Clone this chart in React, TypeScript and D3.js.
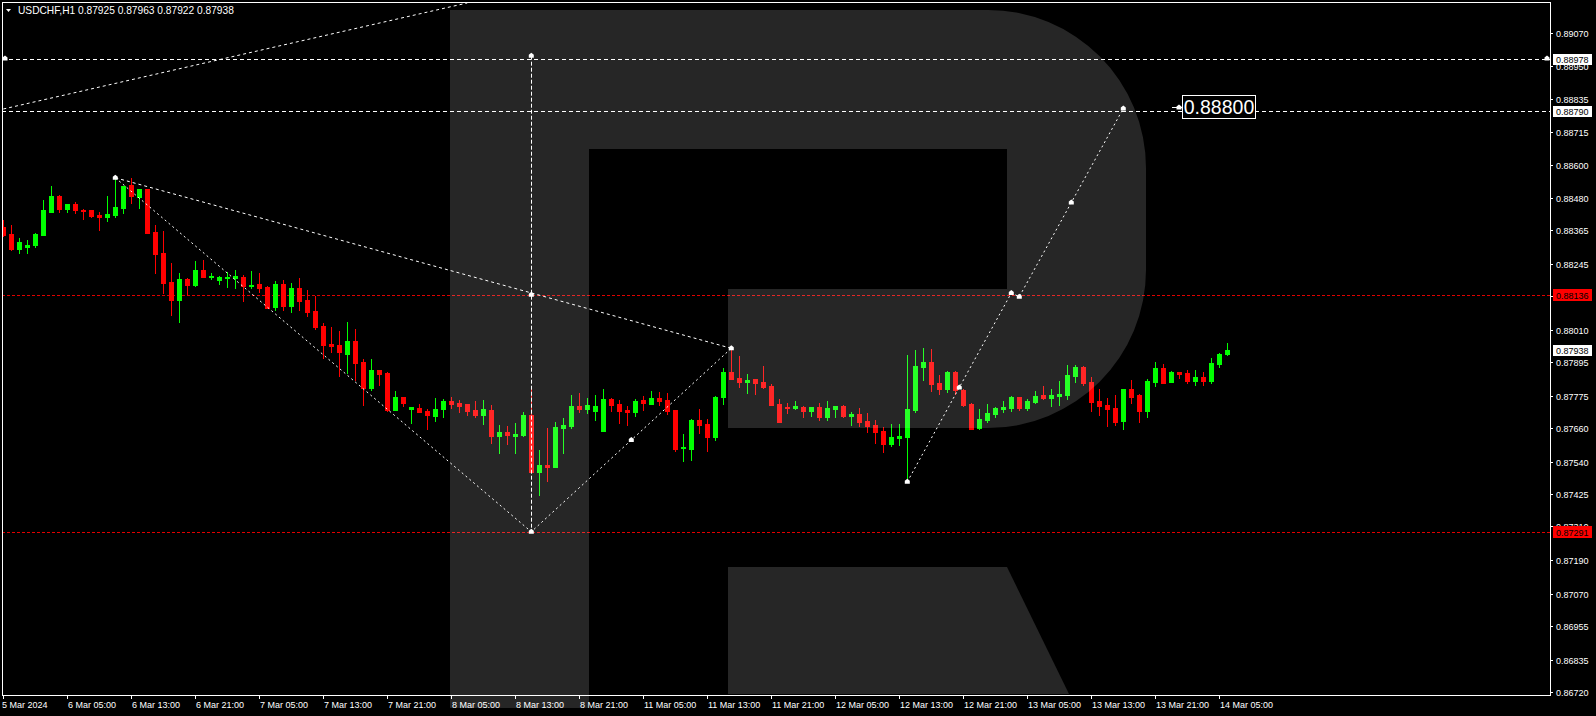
import React from "react";
import * as d3 from "d3";

const W = 1596;
const H = 716;
const PLOT_LEFT = 2;
const PLOT_RIGHT = 1550;
const PLOT_TOP = 2;
const PLOT_BOTTOM = 695;

const headerText = "USDCHF,H1  0.87925 0.87963 0.87922 0.87938";

// Hourly bars (USDCHF H1), oldest first
const opens = [
  0.88378, 0.88353, 0.88299, 0.88307, 0.88314, 0.88349, 0.88431, 0.88488, 0.88442, 0.8846,
  0.88438, 0.88438, 0.88421, 0.88413, 0.88421, 0.88446, 0.88527, 0.88485, 0.88513, 0.8836,
  0.88285, 0.88182, 0.88118, 0.88192, 0.88171, 0.88225, 0.882, 0.88189, 0.88196, 0.88196,
  0.882, 0.88168, 0.88175, 0.88164, 0.88093, 0.88175, 0.88096, 0.8816, 0.88118, 0.88078,
  0.88025, 0.87961, 0.87957, 0.87925, 0.87971, 0.87897, 0.87804, 0.87868, 0.87857, 0.87726,
  0.87772, 0.87729, 0.87733, 0.87722, 0.87704, 0.87729, 0.87758, 0.87751, 0.87747, 0.87726,
  0.87708, 0.87726, 0.87633, 0.87647, 0.87633, 0.87636, 0.87708, 0.87505, 0.8753, 0.87522,
  0.87661, 0.87669, 0.8774, 0.87729, 0.87722, 0.87651, 0.87765, 0.87747, 0.87726, 0.87718,
  0.87761, 0.87747, 0.87768, 0.87761, 0.87726, 0.8759, 0.87587, 0.8769, 0.87676, 0.87629,
  0.87772, 0.87861, 0.8784, 0.87825, 0.87836, 0.87825, 0.87811, 0.87747, 0.87736, 0.87733,
  0.87736, 0.87722, 0.87736, 0.87701, 0.87729, 0.8774, 0.87704, 0.87711, 0.87686, 0.87672,
  0.87651, 0.87604, 0.87626, 0.87629, 0.87726, 0.87879, 0.87897, 0.87822, 0.878, 0.87861,
  0.87797, 0.87747, 0.87661, 0.8769, 0.87711, 0.87729, 0.87733, 0.87772, 0.87733, 0.87754,
  0.87779, 0.87768, 0.87775, 0.87779, 0.87847, 0.87879, 0.87825, 0.87758, 0.87743, 0.87733,
  0.87686, 0.878, 0.87779, 0.87722, 0.87825, 0.87875, 0.87825, 0.87861, 0.87857, 0.87829,
  0.87843, 0.87829, 0.8789, 0.87925,
];
const highs = [
  0.88403, 0.88385, 0.88339, 0.88331, 0.88356, 0.88474, 0.88524, 0.88492, 0.8846, 0.88467,
  0.88442, 0.88438, 0.88431, 0.88488, 0.88552, 0.88524, 0.88552, 0.88513, 0.88513, 0.88385,
  0.88364, 0.8825, 0.88214, 0.88196, 0.88257, 0.8826, 0.88214, 0.88203, 0.88217, 0.88225,
  0.88207, 0.88221, 0.88214, 0.88168, 0.88185, 0.88189, 0.88178, 0.88196, 0.88153, 0.88132,
  0.88036, 0.88021, 0.88007, 0.88039, 0.88014, 0.87907, 0.87907, 0.87868, 0.87861, 0.87793,
  0.87772, 0.87736, 0.87747, 0.87729, 0.87768, 0.87765, 0.87772, 0.87761, 0.87747, 0.87758,
  0.87761, 0.87743, 0.87672, 0.87669, 0.87679, 0.87718, 0.87811, 0.87583, 0.87661, 0.87683,
  0.87697, 0.87779, 0.87786, 0.87768, 0.87779, 0.878, 0.87768, 0.87761, 0.8774, 0.87765,
  0.87775, 0.87793, 0.8779, 0.87786, 0.87726, 0.8764, 0.87693, 0.87729, 0.87693, 0.87775,
  0.87875, 0.87939, 0.87918, 0.87854, 0.87836, 0.87882, 0.87818, 0.87765, 0.87751, 0.87758,
  0.8774, 0.87736, 0.87751, 0.87758, 0.8774, 0.87743, 0.87718, 0.87733, 0.87715, 0.8769,
  0.87665, 0.87676, 0.87676, 0.87922, 0.87939, 0.87947, 0.87943, 0.8785, 0.87865, 0.87865,
  0.878, 0.87751, 0.87729, 0.87747, 0.87736, 0.87758, 0.87775, 0.87772, 0.87765, 0.87793,
  0.87811, 0.878, 0.87829, 0.87886, 0.87886, 0.87882, 0.87843, 0.878, 0.87768, 0.87779,
  0.878, 0.87832, 0.87783, 0.87836, 0.87897, 0.8789, 0.87865, 0.87861, 0.87868, 0.87868,
  0.87861, 0.87911, 0.87929, 0.87963,
];
const lows = [
  0.88346, 0.88296, 0.88285, 0.88285, 0.88307, 0.88349, 0.88431, 0.88431, 0.88431, 0.88428,
  0.88406, 0.88413, 0.88367, 0.88399, 0.88413, 0.88428, 0.88463, 0.88446, 0.88356, 0.88214,
  0.88143, 0.88064, 0.88039, 0.88135, 0.88168, 0.882, 0.88192, 0.88175, 0.88164, 0.8816,
  0.88114, 0.8816, 0.88146, 0.88089, 0.88082, 0.88082, 0.88075, 0.88082, 0.88061, 0.88014,
  0.87911, 0.87932, 0.87847, 0.87857, 0.87832, 0.87743, 0.87797, 0.87815, 0.87722, 0.87726,
  0.8774, 0.87679, 0.87718, 0.87658, 0.87686, 0.87701, 0.87733, 0.87718, 0.87708, 0.87701,
  0.87676, 0.87608, 0.87572, 0.87604, 0.87572, 0.87633, 0.87505, 0.87423, 0.87473, 0.87522,
  0.87572, 0.87661, 0.87718, 0.87715, 0.8769, 0.87651, 0.87722, 0.87679, 0.87672, 0.87704,
  0.87726, 0.87747, 0.87743, 0.87711, 0.87579, 0.87544, 0.87547, 0.87644, 0.87579, 0.87619,
  0.87747, 0.87836, 0.87808, 0.87786, 0.87783, 0.87804, 0.87743, 0.87683, 0.87715, 0.87729,
  0.87701, 0.87704, 0.8769, 0.8769, 0.87701, 0.87701, 0.87672, 0.87669, 0.87647, 0.87608,
  0.87576, 0.87597, 0.87601, 0.87469, 0.87718, 0.87832, 0.87793, 0.87783, 0.8779, 0.87783,
  0.8774, 0.87658, 0.87658, 0.87683, 0.87701, 0.87718, 0.87722, 0.87726, 0.87726, 0.87751,
  0.87765, 0.8774, 0.87743, 0.87765, 0.87825, 0.87815, 0.87722, 0.87708, 0.87669, 0.87672,
  0.87658, 0.87751, 0.87683, 0.87701, 0.87811, 0.87822, 0.87825, 0.8784, 0.87822, 0.87815,
  0.87815, 0.87822, 0.87879, 0.87922,
];
const closes = [
  0.88349, 0.88299, 0.88324, 0.88314, 0.88353, 0.88438, 0.88488, 0.88442, 0.8846, 0.88438,
  0.88435, 0.88417, 0.88413, 0.88424, 0.88449, 0.88524, 0.88488, 0.88513, 0.88356, 0.88282,
  0.88178, 0.88118, 0.88192, 0.88171, 0.88225, 0.882, 0.88203, 0.882, 0.882, 0.88203,
  0.88168, 0.88171, 0.8816, 0.88089, 0.88175, 0.88096, 0.8816, 0.88114, 0.88075, 0.88021,
  0.87957, 0.87954, 0.87932, 0.87971, 0.87893, 0.87804, 0.87868, 0.87854, 0.87726, 0.87772,
  0.87751, 0.87736, 0.87718, 0.87708, 0.87729, 0.87758, 0.87747, 0.8774, 0.87722, 0.87708,
  0.87729, 0.87633, 0.87647, 0.87636, 0.8764, 0.87708, 0.87505, 0.8753, 0.87522, 0.87665,
  0.87672, 0.8774, 0.87729, 0.87743, 0.8774, 0.87765, 0.87743, 0.87722, 0.87718, 0.87758,
  0.87751, 0.87768, 0.87758, 0.87722, 0.87587, 0.87594, 0.8769, 0.87672, 0.87629, 0.87772,
  0.87861, 0.87836, 0.87825, 0.87832, 0.87822, 0.87808, 0.87743, 0.87683, 0.87733, 0.8774,
  0.87722, 0.87736, 0.87701, 0.87733, 0.8774, 0.87704, 0.87711, 0.87683, 0.87669, 0.87647,
  0.87604, 0.87629, 0.87633, 0.87729, 0.87882, 0.87897, 0.87818, 0.878, 0.87861, 0.87797,
  0.87743, 0.87658, 0.87693, 0.87715, 0.87733, 0.87736, 0.87772, 0.87733, 0.87758, 0.87775,
  0.87768, 0.87779, 0.87783, 0.8785, 0.87879, 0.87822, 0.87754, 0.8774, 0.87729, 0.87683,
  0.878, 0.87772, 0.87722, 0.87829, 0.87875, 0.87822, 0.87861, 0.87854, 0.87829, 0.87843,
  0.87829, 0.87893, 0.87925, 0.87938,
];

const yTickValues = [
  0.8907, 0.8895, 0.88835, 0.88715, 0.886, 0.8848, 0.88365, 0.88245, 0.8813, 0.8801, 0.87895,
  0.87775, 0.8766, 0.8754, 0.87425, 0.8731, 0.8719, 0.8707, 0.86955, 0.86835, 0.8672,
];
const xTickLabels = [
  "5 Mar 2024", "6 Mar 05:00", "6 Mar 13:00", "6 Mar 21:00", "7 Mar 05:00", "7 Mar 13:00",
  "7 Mar 21:00", "8 Mar 05:00", "8 Mar 13:00", "8 Mar 21:00", "11 Mar 05:00", "11 Mar 13:00",
  "11 Mar 21:00", "12 Mar 05:00", "12 Mar 13:00", "12 Mar 21:00", "13 Mar 05:00", "13 Mar 13:00",
  "13 Mar 21:00", "14 Mar 05:00",
];
const barsPerLabel = 8;

const whiteLevels = [0.88978, 0.8879];
const redLevels = [0.88136, 0.87291];
const lastPrice = 0.87938;
const targetPrice = 0.888;
const targetLabel = "0.88800";

// annotation anchors: [bar index, price]
const fanTop: [number, number] = [14, 0.88553];
const swingLow: [number, number] = [66, 0.87291];
const swingHigh: [number, number] = [91, 0.87945];
const verticalTop: [number, number] = [66, 0.88988];
const projection: [number, number][] = [
  [113, 0.87469],
  [126, 0.88142],
  [127, 0.88129],
  [140, 0.888],
];
const topTrend: [number, number][] = [
  [0, 0.88798],
  [58, 0.89176],
];

const FONT = "'Liberation Sans', Arial, sans-serif";

export default function App() {
  const x = d3.scaleLinear().domain([0, 193]).range([3.3, 3.3 + 8 * 193]);
  const y = d3.scaleLinear().domain([0.8672, 0.8907]).range([692, 32.7]);

  const bars = opens.map((o, i) => ({ o, h: highs[i], l: lows[i], c: closes[i], i }));
  const line = d3
    .line<[number, number]>()
    .x((d) => x(d[0]))
    .y((d) => y(d[1]));

  const marker = (px: number, py: number, key: string) => (
    <path
      key={key}
      d={`M${px - 2.5},${py + 2} L${px - 2.5},${py - 1} L${px},${py - 3} L${px + 2.5},${py - 1} L${px + 2.5},${py + 2} Z`}
      fill="#fff"
    />
  );

  const rY = (v: number) => Math.round(y(v)) + 0.5;

  // Logo geometry
  const r = 158;
  const logoMain = `M450,10 L${1146 - r},10 A${r},${r} 0 0 1 1146,${10 + r} L1146,${428 - r} A${r},${r} 0 0 1 ${1146 - r},428 L728,428 L728,289 L1007,289 L1007,149 L589,149 L589,708 L450,708 Z`;
  const logoLeg = "M728,567 L1007,567 L1069,694 L728,694 Z";

  const mid = (a: [number, number], b: [number, number]): [number, number] => [
    (x(a[0]) + x(b[0])) / 2,
    (y(a[1]) + y(b[1])) / 2,
  ];
  const m1 = mid(swingLow, swingHigh);
  const m2 = mid(projection[0], projection[1]);
  const m3 = mid(projection[2], projection[3]);

  return (
    <svg
      width={W}
      height={H}
      style={{ position: "fixed", left: 0, top: 0, display: "block" }}
      xmlns="http://www.w3.org/2000/svg"
    >
      <defs>
        <clipPath id="plot">
          <rect x={PLOT_LEFT} y={PLOT_TOP} width={PLOT_RIGHT - PLOT_LEFT} height={PLOT_BOTTOM - PLOT_TOP} />
        </clipPath>
      </defs>
      <rect x={0} y={0} width={W} height={H} fill="#000" />

      <g clipPath="url(#plot)">
        {/* horizontal levels */}
        {whiteLevels.map((v, k) => (
          <line key={"w" + k} x1={PLOT_LEFT} x2={PLOT_RIGHT} y1={rY(v)} y2={rY(v)} stroke="#fff" strokeDasharray="4,3" shapeRendering="crispEdges" />
        ))}
        {redLevels.map((v, k) => (
          <line key={"r" + k} x1={PLOT_LEFT} x2={PLOT_RIGHT} y1={rY(v)} y2={rY(v)} stroke="#e00000" strokeDasharray="3,2" shapeRendering="crispEdges" />
        ))}

        {/* candles */}
        {bars.map((b) => {
          const cx = Math.round(x(b.i));
          const bull = b.c >= b.o;
          const col = bull ? "#00ff00" : "#ff0000";
          const yh = Math.round(y(b.h));
          const yl = Math.round(y(b.l));
          const top = Math.round(y(Math.max(b.o, b.c)));
          const bot = Math.round(y(Math.min(b.o, b.c)));
          return (
            <g key={b.i} shapeRendering="crispEdges">
              <rect x={cx} y={yh} width={1} height={Math.max(1, yl - yh + 1)} fill={col} />
              <rect x={cx - 2} y={top} width={5} height={Math.max(1, bot - top + 1)} fill={col} />
            </g>
          );
        })}

        {/* annotations */}
        <path d={line(topTrend) || ""} stroke="#fff" fill="none" strokeDasharray="3,3" />
        <path d={line([fanTop, swingHigh]) || ""} stroke="#fff" fill="none" strokeDasharray="3,3" />
        <path d={line([fanTop, swingLow, swingHigh]) || ""} stroke="#fff" fill="none" strokeDasharray="2,3" />
        <line
          x1={Math.round(x(verticalTop[0])) + 0.5}
          x2={Math.round(x(verticalTop[0])) + 0.5}
          y1={y(verticalTop[1])}
          y2={y(swingLow[1])}
          stroke="#fff"
          strokeDasharray="4,2"
        />
        <path d={line(projection) || ""} stroke="#fff" fill="none" strokeDasharray="2,3" />

        {marker(x(fanTop[0]), y(fanTop[1]), "mA")}
        {marker(x(swingLow[0]), y(swingLow[1]), "mB")}
        {marker(x(swingHigh[0]), y(swingHigh[1]), "mC")}
        {marker(x(verticalTop[0]), y(verticalTop[1]), "mV")}
        {marker(x(verticalTop[0]), y(redLevels[0]), "mX")}
        {marker(m1[0], m1[1], "m1")}
        {marker(m2[0], m2[1], "m2")}
        {marker(m3[0], m3[1], "m3")}
        {projection.map((p, k) => marker(x(p[0]), y(p[1]), "mp" + k))}
        {marker(5, y(whiteLevels[0]), "ml")}
        {marker(1547, y(whiteLevels[0]), "mr")}
      </g>

      {/* target label */}
      <line x1={1172} x2={1182} y1={rY(targetPrice) - 1} y2={rY(targetPrice) - 1} stroke="#fff" />
      {marker(1179, y(targetPrice) - 1, "mt")}
      <rect x={1182.5} y={95.5} width={73} height={23} fill="#000" stroke="#fff" />
      <text x={1219} y={114} fill="#fff" fontSize={19.5} fontFamily={FONT} textAnchor="middle">
        {targetLabel}
      </text>

      {/* frame */}
      <rect
        x={PLOT_LEFT + 0.5}
        y={PLOT_TOP + 0.5}
        width={PLOT_RIGHT - PLOT_LEFT}
        height={PLOT_BOTTOM - PLOT_TOP}
        fill="none"
        stroke="#fff"
        shapeRendering="crispEdges"
      />

      {/* y axis */}
      {yTickValues.map((v, k) => {
        const ty = rY(v);
        return (
          <g key={"yt" + k}>
            <line x1={PLOT_RIGHT} x2={PLOT_RIGHT + 3} y1={ty} y2={ty} stroke="#fff" shapeRendering="crispEdges" />
            <text x={1556} y={ty + 3.5} fill="#fff" fontSize={9} fontFamily={FONT}>
              {v.toFixed(5)}
            </text>
          </g>
        );
      })}

      {/* price tags */}
      {whiteLevels.concat([lastPrice]).map((v, k) => {
        const ty = y(v);
        return (
          <g key={"tw" + k}>
            <rect x={1553} y={Math.round(ty) - 5} width={39} height={11} fill="#fff" />
            <text x={1556} y={Math.round(ty) + 4} fill="#000" fontSize={9} fontFamily={FONT}>
              {v.toFixed(5)}
            </text>
          </g>
        );
      })}
      {redLevels.map((v, k) => {
        const ty = y(v);
        return (
          <g key={"tr" + k}>
            <rect x={1553} y={Math.round(ty) - 6} width={39} height={12} fill="#ff0000" />
            <text x={1556} y={Math.round(ty) + 4} fill="#000" fontSize={9} fontFamily={FONT}>
              {v.toFixed(5)}
            </text>
          </g>
        );
      })}

      {/* x axis */}
      {xTickLabels.map((lab, k) => {
        const tx = Math.round(x(k * barsPerLabel)) + 0.5;
        return (
          <g key={"xt" + k}>
            <line x1={tx} x2={tx} y1={PLOT_BOTTOM} y2={PLOT_BOTTOM + 4} stroke="#fff" shapeRendering="crispEdges" />
            <text x={k === 0 ? 2 : tx + 0.5} y={708} fill="#fff" fontSize={9} fontFamily={FONT}>
              {lab}
            </text>
          </g>
        );
      })}

      {/* header */}
      <path d="M6,9 L11,9 L8.5,12 Z" fill="#fff" />
      <text x={18} y={14} fill="#fff" fontSize={10.2} fontFamily={FONT}>
        {headerText}
      </text>

      {/* watermark logo */}
      <path d={logoMain} fill="#fff" fillOpacity={0.15} />
      <path d={logoLeg} fill="#fff" fillOpacity={0.15} />
    </svg>
  );
}
